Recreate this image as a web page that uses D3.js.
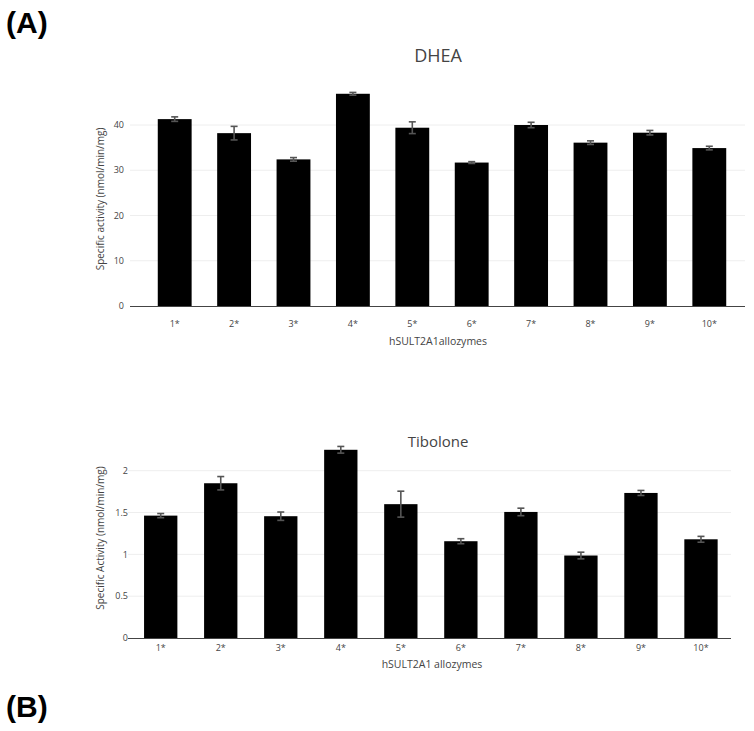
<!DOCTYPE html>
<html><head><meta charset="utf-8">
<script src="https://cdn.jsdelivr.net/npm/d3@7"></script>
<style>body{margin:0;background:#fff}svg{display:block}</style>
</head><body>
<svg id="c" width="754" height="731"></svg>
<script>
const categories = ["1*","2*","3*","4*","5*","6*","7*","8*","9*","10*"];
const dheaValues = [41.3, 38.2, 32.4, 46.9, 39.4, 31.7, 40.0, 36.1, 38.3, 34.9];
const dheaErrors = [0.5, 1.5, 0.4, 0.3, 1.3, 0.2, 0.6, 0.4, 0.5, 0.4];
const dheaTicks = [0, 10, 20, 30, 40];
const tiboloneValues = [1.463, 1.85, 1.456, 2.25, 1.60, 1.157, 1.507, 0.986, 1.734, 1.18];
const tiboloneErrors = [0.025, 0.08, 0.05, 0.04, 0.155, 0.03, 0.045, 0.04, 0.03, 0.035];
const tiboloneTicks = [0, 0.5, 1, 1.5, 2];
const tiboloneTickLabels = ["0", "0.5", "1", "1.5", "2"];

const svg = d3.select("#c");
const font = "'Open Sans', sans-serif";

function panel(o) {
  const g = svg.append("g");
  const x = d3.scaleBand().domain(categories).range([o.bx0, o.bx1]).paddingInner(o.pad).paddingOuter(o.pad / 2);
  const y = d3.scaleLinear().domain([0, o.ymaxVal]).range([o.y0, o.ymaxPx]);
  g.selectAll("line.grid").data(o.ticks.filter(t => t > 0)).join("line")
    .attr("x1", o.ax0).attr("x2", o.ax1)
    .attr("y1", d => y(d)).attr("y2", d => y(d))
    .attr("stroke", "#eeeeee").attr("stroke-width", 1);
  g.selectAll("rect.bar").data(o.values).join("rect")
    .attr("x", (d, i) => x(categories[i]))
    .attr("width", x.bandwidth())
    .attr("y", d => y(d))
    .attr("height", d => y(0) - y(d))
    .attr("fill", "#000");
  const eg = g.append("g").attr("stroke", "#555").attr("stroke-width", 1.6);
  o.values.forEach((v, i) => {
    const cx = x(categories[i]) + x.bandwidth() / 2;
    const e = o.errors[i];
    eg.append("line").attr("x1", cx).attr("x2", cx).attr("y1", y(v + e)).attr("y2", y(v - e));
    eg.append("line").attr("x1", cx - 3.5).attr("x2", cx + 3.5).attr("y1", y(v + e)).attr("y2", y(v + e));
    eg.append("line").attr("x1", cx - 3.5).attr("x2", cx + 3.5).attr("y1", y(v - e)).attr("y2", y(v - e));
  });
  g.append("line").attr("x1", o.ax0).attr("x2", o.ax1).attr("y1", y(0) + 0.5).attr("y2", y(0) + 0.5)
    .attr("stroke", "#444").attr("stroke-width", 1);
  g.selectAll("text.yt").data(o.ticks).join("text")
    .attr("x", o.ytx).attr("y", d => y(d)).attr("dy", "0.35em")
    .attr("text-anchor", "end").attr("font-family", font).attr("font-size", 9)
    .attr("fill", "#444").text((d, i) => o.tickLabels[i]);
  g.selectAll("text.xt").data(categories).join("text")
    .attr("x", d => x(d) + x.bandwidth() / 2).attr("y", o.xty)
    .attr("text-anchor", "middle").attr("font-family", font).attr("font-size", 9)
    .attr("fill", "#444").text(d => d);
  g.append("text").attr("x", o.titleX).attr("y", o.titleY).attr("text-anchor", "middle")
    .attr("font-family", font).attr("font-size", o.titleSize).attr("fill", "#444").text(o.title);
  g.append("text").attr("x", o.xtitleX).attr("y", o.xtitleY).attr("text-anchor", "middle")
    .attr("font-family", font).attr("font-size", 10.5).attr("fill", "#444").text(o.xtitle);
  g.append("text").attr("transform", `translate(${o.ytitleX},${o.ytitleY}) rotate(-90)`)
    .attr("text-anchor", "middle").attr("font-family", font).attr("font-size", 10)
    .attr("fill", "#444").text(o.ytitle);
}

panel({
  values: dheaValues, errors: dheaErrors, ticks: dheaTicks, tickLabels: dheaTicks.map(String),
  bx0: 145, bx1: 739, pad: 0.43, ax0: 130, ax1: 745,
  y0: 306, ymaxVal: 40, ymaxPx: 125,
  ytx: 124, xty: 327,
  title: "DHEA", titleX: 438, titleY: 62, titleSize: 18,
  xtitle: "hSULT2A1allozymes", xtitleX: 438, xtitleY: 345,
  ytitle: "Specific activity (nmol/min/mg)", ytitleX: 104, ytitleY: 199
});

panel({
  values: tiboloneValues, errors: tiboloneErrors, ticks: tiboloneTicks, tickLabels: tiboloneTickLabels,
  bx0: 130.7, bx1: 731, pad: 0.445, ax0: 128, ax1: 731,
  y0: 638, ymaxVal: 2, ymaxPx: 470.7,
  ytx: 128, xty: 651,
  title: "Tibolone", titleX: 438, titleY: 447, titleSize: 15,
  xtitle: "hSULT2A1 allozymes", xtitleX: 432, xtitleY: 668,
  ytitle: "Specific Activity (nmol/min/mg)", ytitleX: 104, ytitleY: 538
});

svg.append("text").attr("x", 6).attr("y", 33).attr("font-family", "'Liberation Sans', Arial, sans-serif")
  .attr("font-weight", "bold").attr("font-size", 30).attr("fill", "#000").text("(A)");
svg.append("text").attr("x", 6).attr("y", 717).attr("font-family", "'Liberation Sans', Arial, sans-serif")
  .attr("font-weight", "bold").attr("font-size", 30).attr("fill", "#000").text("(B)");
</script>
</body></html>
